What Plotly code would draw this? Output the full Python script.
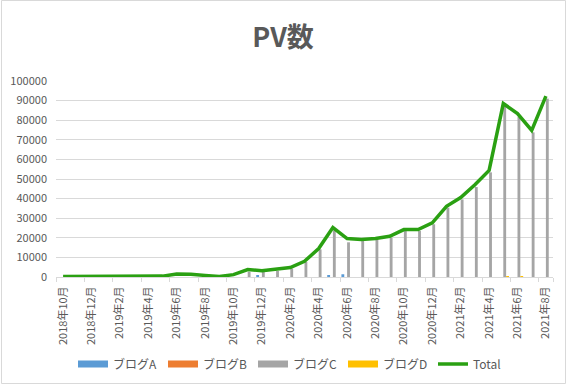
import plotly.graph_objects as go

months = ["2018年10月", "2018年11月", "2018年12月",
          "2019年1月", "2019年2月", "2019年3月", "2019年4月", "2019年5月", "2019年6月",
          "2019年7月", "2019年8月", "2019年9月", "2019年10月", "2019年11月", "2019年12月",
          "2020年1月", "2020年2月", "2020年3月", "2020年4月", "2020年5月", "2020年6月",
          "2020年7月", "2020年8月", "2020年9月", "2020年10月", "2020年11月", "2020年12月",
          "2021年1月", "2021年2月", "2021年3月", "2021年4月", "2021年5月", "2021年6月",
          "2021年7月", "2021年8月"]

blog_a = [0, 0, 0, 0, 0, 0, 0, 0, 0, 0, 0, 0, 0, 0, 600, 0, 0, 0, 0, 600, 1400,
          0, 0, 0, 0, 0, 0, 0, 0, 0, 0, 0, 0, 0, 0]
blog_b = [0] * 35
blog_c = [0, 0, 0, 0, 0, 0, 0, 0, 0, 0, 0, 0, 0, 2600, 2600, 3100, 4300, 7700, 14100,
          23800, 17700, 18700, 19100, 20100, 23500, 23500, 26900, 35400, 39600, 45900,
          53400, 87400, 81600, 73800, 91000]
blog_d = [0, 0, 0, 0, 0, 0, 0, 0, 0, 0, 0, 0, 0, 0, 0, 0, 0, 0, 0, 0, 0,
          0, 0, 0, 0, 0, 0, 0, 0, 0, 0, 450, 450, 0, 0]
total = [300, 300, 300, 300, 300, 300, 350, 450, 1500, 1400, 800, 300, 1200, 3800,
         3200, 3800, 4800, 8000, 14500, 25200, 19600, 19100, 19600, 20800, 24200,
         24200, 27600, 36100, 40500, 47100, 54400, 88500, 83400, 74800, 92300]

tick_labels = months[::2]

names = ["ブログA", "ブログB", "ブログC", "ブログD"]
colors = ["#5B9BD5", "#ED7D31", "#A5A5A5", "#FFC000"]
series = [blog_a, blog_b, blog_c, blog_d]
line_color = "#2AA012"
text_color = "#595959"
font_family = "Noto Sans CJK JP"

W, H = 568, 385
L, R, T, B = 56, 15, 81, 108

fig = go.Figure()
for name, col, vals in zip(names, colors, series):
    fig.add_trace(go.Bar(x=months, y=vals, name=name, marker_color=col,
                         marker_line_width=0, showlegend=False, legendgroup=name))
fig.add_trace(go.Scatter(x=months, y=total, name="Total", mode="lines",
                         line=dict(color=line_color, width=3.5), showlegend=False,
                         legendgroup="Total"))
# legend entries (wide swatches like the original)
for name, col in zip(names, colors):
    fig.add_trace(go.Scatter(x=[None], y=[None], name=name, mode="lines",
                             line=dict(color=col, width=7), legendgroup=name))
fig.add_trace(go.Scatter(x=[None], y=[None], name="Total", mode="lines",
                         line=dict(color=line_color, width=3.5), legendgroup="Total"))

pw = W - L - R
ph = H - T - B
fig.update_layout(
    width=W, height=H, autosize=False,
    margin=dict(l=L, r=R, t=T, b=B, autoexpand=False),
    paper_bgcolor="white", plot_bgcolor="white",
    font=dict(family=font_family, color=text_color, size=11),
    barmode="group", bargap=0.2, bargroupgap=0,
    title=dict(text="<b>PV数</b>", x=283 / W, xanchor="center", y=1 - 38 / H,
               yanchor="middle", xref="container", yref="container",
               font=dict(size=27, color=text_color, family=font_family)),
    legend=dict(orientation="h", x=(298 - L) / pw, xanchor="center",
                y=(H - B - 364) / ph, yanchor="middle",
                font=dict(size=12, color=text_color), itemwidth=30,
                entrywidth=45, traceorder="normal", bgcolor="rgba(0,0,0,0)"),
    showlegend=True,
)
fig.update_xaxes(type="category", categoryorder="array", categoryarray=months,
                 tickmode="array", tickvals=tick_labels, ticktext=tick_labels,
                 tickangle=-90, tickson="boundaries", ticks="outside", ticklen=4,
                 tickcolor="#D9D9D9", showline=True, linecolor="#D9D9D9", linewidth=1,
                 showgrid=False, tickfont=dict(size=11, color=text_color),
                 ticklabelstandoff=4)
fig.update_yaxes(range=[0, 100000], dtick=10000, tickformat="d", showgrid=True,
                 gridcolor="#D9D9D9", gridwidth=1, zeroline=False, showline=False,
                 ticks="", tickfont=dict(size=11, color=text_color), ticklabelstandoff=8)

# outer chart border
fig.add_shape(type="rect", xref="paper", yref="paper",
              x0=(1.5 - L) / pw, x1=(565.5 - L) / pw,
              y0=(H - B - 383.5) / ph, y1=(H - B - 0.5) / ph,
              line=dict(color="#D9D9D9", width=1), fillcolor="rgba(0,0,0,0)", layer="below")

fig.write_html("out.html", config={"displayModeBar": False},
               post_script="document.body.style.margin='0';document.body.style.overflow='hidden';")
